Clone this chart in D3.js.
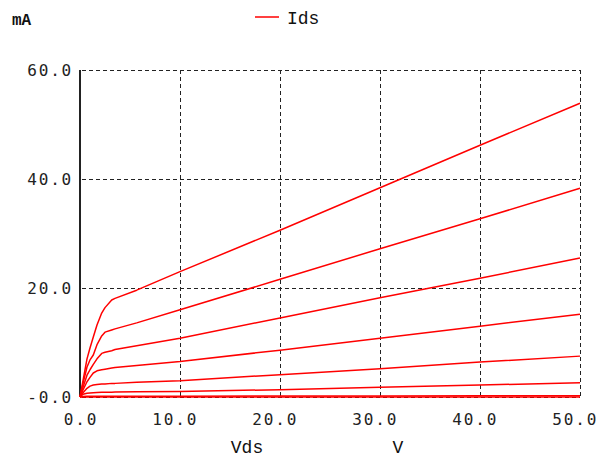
<!DOCTYPE html>
<html><head><meta charset="utf-8">
<script src="https://cdn.jsdelivr.net/npm/d3@7"></script>
<style>
body{margin:0;background:#fff;}
svg{display:block;}
.tick-label{font-family:"DejaVu Sans Mono",monospace;font-size:16px;fill:#222;letter-spacing:1.8px;}
.serif{font-family:"Liberation Mono","Courier New",monospace;fill:#111;}
</style>
</head><body>
<script>
// ---- data ----
const vds = [0, 0.3, 0.7, 1, 1.33, 1.7, 2.17, 2.5, 3.17, 3.5, 5.67, 10, 20, 30, 40, 50];
const idsCurve1 = [0, 3.0, 7.0, 9.0, 11.0, 13.2, 15.4, 16.4, 17.8, 18.1, 19.6, 23.0, 30.6, 38.4, 46.2, 53.9];
const idsCurve2 = [0, 2.5, 5.5, 6.8, 7.7, 9.6, 11.2, 11.9, 12.3, 12.5, 13.6, 16.0, 21.6, 27.2, 32.7, 38.3];
const idsCurve3 = [0, 1.8, 4.0, 5.0, 6.0, 7.0, 8.0, 8.2, 8.5, 8.7, 9.4, 10.8, 14.5, 18.2, 21.8, 25.5];
const idsCurve4 = [0, 1.3, 2.8, 3.6, 4.4, 4.8, 5.0, 5.1, 5.3, 5.4, 5.8, 6.5, 8.6, 10.8, 13.0, 15.2];
const idsCurve5 = [0, 0.8, 1.6, 2.0, 2.2, 2.3, 2.4, 2.4, 2.5, 2.5, 2.7, 3.0, 4.1, 5.2, 6.4, 7.5];
const idsCurve6 = [0, 0.5, 0.7, 0.75, 0.8, 0.82, 0.85, 0.86, 0.88, 0.9, 0.95, 1.0, 1.35, 1.8, 2.2, 2.6];
const idsCurve7 = [0, 0.1, 0.12, 0.13, 0.13, 0.13, 0.14, 0.14, 0.14, 0.14, 0.15, 0.16, 0.18, 0.2, 0.22, 0.25];
const idsCurve8 = [0, 0, 0, 0, 0, 0, 0, 0, 0, 0, 0, 0, 0, 0, 0, 0];
const series = [idsCurve1, idsCurve2, idsCurve3, idsCurve4, idsCurve5, idsCurve6, idsCurve7, idsCurve8];
const xTicks = [0, 10, 20, 30, 40, 50];
const yTicks = [0, 20, 40, 60];
const xTickLabels = ["0.0", "10.0", "20.0", "30.0", "40.0", "50.0"];
const yTickLabels = ["-0.0", "20.0", "40.0", "60.0"];
const legendLabel = "Ids";
const yUnit = "mA";
const xTitle = "Vds";
const xUnit = "V";

// ---- chart ----
const W = 597, H = 457;
const svg = d3.select("body").append("svg").attr("width", W).attr("height", H);
const x = d3.scaleLinear().domain([0, 50]).range([80, 580]);
const y = d3.scaleLinear().domain([0, 60]).range([397, 70]);

// grid
const grid = svg.append("g").attr("stroke", "#222").attr("stroke-width", 1)
  .attr("stroke-dasharray", "4,3").attr("shape-rendering", "crispEdges");
xTicks.filter(d => d > 0).forEach(d => {
  grid.append("line").attr("x1", x(d)).attr("x2", x(d)).attr("y1", y(60)).attr("y2", y(0));
});
yTicks.forEach(d => {
  grid.append("line").attr("x1", x(0) + 2).attr("x2", x(50)).attr("y1", y(d)).attr("y2", y(d));
});
// left axis solid
svg.append("line").attr("x1", x(0)).attr("x2", x(0)).attr("y1", y(60)).attr("y2", y(0))
  .attr("stroke", "#222").attr("stroke-width", 1.5).attr("shape-rendering", "crispEdges");

// curves
const line = d3.line().x((d, i) => x(vds[i])).y(d => y(d));
series.forEach(s => {
  svg.append("path").datum(s).attr("d", line).attr("fill", "none")
    .attr("stroke", "#ff0000").attr("stroke-width", 1.5).attr("stroke-linejoin", "round");
});

// y tick labels
yTicks.forEach((d, i) => {
  svg.append("text").attr("class", "tick-label").attr("x", 73).attr("y", y(d) + 6)
    .attr("text-anchor", "end").text(yTickLabels[i]);
});
// x tick labels: decimal point centred on the tick
const adv = 16 * 0.602 + 1.8;
xTicks.forEach((d, i) => {
  const s = xTickLabels[i];
  const start = x(d) - (s.length - 2) * adv - 4.8;
  svg.append("text").attr("class", "tick-label").attr("x", start).attr("y", 425)
    .attr("text-anchor", "start").text(s);
});

// titles
svg.append("text").attr("class", "serif").attr("x", 12).attr("y", 25)
  .attr("font-size", 16).attr("font-weight", "bold").text(yUnit);
svg.append("text").attr("class", "serif").attr("x", 247).attr("y", 453)
  .attr("font-size", 18).attr("text-anchor", "middle").text(xTitle);
svg.append("text").attr("class", "serif").attr("x", 398).attr("y", 453)
  .attr("font-size", 18).attr("text-anchor", "middle").text(xUnit);

// legend
svg.append("line").attr("x1", 255).attr("x2", 279).attr("y1", 17).attr("y2", 17)
  .attr("stroke", "#ff0000").attr("stroke-width", 1.5);
svg.append("text").attr("class", "serif").attr("x", 287).attr("y", 24)
  .attr("font-size", 18).text(legendLabel);
</script>
</body></html>
